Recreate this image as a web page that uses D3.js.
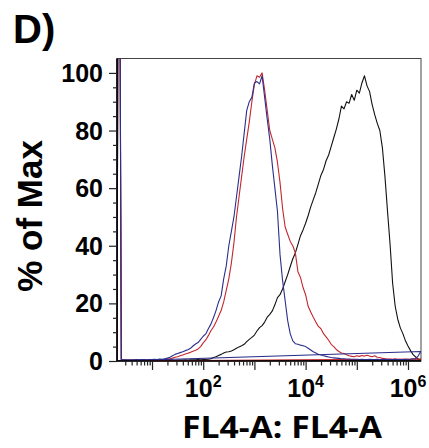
<!DOCTYPE html>
<html>
<head>
<meta charset="utf-8">
<script src="https://cdn.jsdelivr.net/npm/d3@7"></script>
<style>
html,body{margin:0;padding:0;background:#fff;}
svg{display:block;}
</style>
</head>
<body>
<svg id="chart" width="429" height="448"></svg>
<script>
// ---- data ----
// bin centres, log10(FL4-A)
const binLog = [0.35,0.40,0.45,0.50,0.55,0.60,0.65,0.70,0.75,0.80,0.85,0.90,0.95,1.00,1.05,1.10,1.15,1.20,1.25,1.30,
1.35,1.40,1.45,1.50,1.55,1.60,1.65,1.70,1.75,1.80,1.85,1.90,1.95,2.00,2.05,2.10,2.15,2.20,2.25,2.30,
2.35,2.40,2.45,2.50,2.55,2.60,2.65,2.70,2.75,2.80,2.85,2.90,2.95,3.00,3.05,3.10,3.15,3.20,3.25,3.30,
3.35,3.40,3.45,3.50,3.55,3.60,3.65,3.70,3.75,3.80,3.85,3.90,3.95,4.00,4.05,4.10,4.15,4.20,4.25,4.30,
4.35,4.40,4.45,4.50,4.55,4.60,4.65,4.70,4.75,4.80,4.85,4.90,4.95,5.00,5.05,5.10,5.15,5.20,5.25,5.30,
5.35,5.40,5.45,5.50,5.55,5.60,5.65,5.70,5.75,5.80,5.85,5.90,5.95,6.00,6.05,6.10,6.15,6.20,6.25];

const blackPct = [230,0.3,0.2,0.2,0.3,0.2,0.2,0.3,0.2,0.2,0.3,0.2,0.2,0.3,0.2,0.3,0.2,0.3,0.3,0.2,
0.3,0.3,0.2,0.3,0.3,0.3,0.4,0.3,0.4,0.4,0.4,0.5,0.4,0.5,0.5,0.6,0.8,1.2,1.5,1.9,
2.3,2.8,3.1,3.2,3.5,3.9,4.4,4.9,5.3,5.8,6.7,7.5,8.2,9.0,10.4,11.6,12.3,13.5,15.2,16.2,
17.4,19.5,22,23,25,27.5,30,32.8,35.5,37.5,40.5,43.5,45.5,47.8,50.5,53.5,56,58.5,61.5,64.5,
66.5,69.5,71.5,74.5,77.5,80.5,84,88.5,87.5,90,89.5,92.5,90.5,94,93,96.5,99,95.5,93.5,89,
85.5,82.5,80,74,64,52,40.5,27,19,14.5,11.5,9.5,7,5.2,3.6,2.2,1.4,0.7,0.3];

const redPct = [240,0.5,0.4,0.3,0.4,0.3,0.4,0.3,0.4,0.4,0.3,0.4,0.4,0.3,0.4,0.4,0.5,0.4,0.5,0.6,
0.8,1.0,1.3,1.5,1.8,2.1,2.4,2.7,3.0,3.4,3.7,4.2,5.0,6.3,7.3,8.8,10.5,11.8,13.5,15.5,
17.5,20.5,24.5,28.5,34,41,50,57,64,71,77,83,90,96,99,98.5,100,94,87,80,
77,74,69,62,53,46.5,44,41.5,40,37.5,31,29,25.5,23,19,17,15.2,13.5,12,11.2,
9.5,8.4,7.2,5.8,5.0,4.0,3.3,2.8,2.6,2.2,1.8,1.6,1.5,1.8,1.6,1.9,1.7,2.0,1.7,1.5,
1.8,1.3,1.2,0.9,0.8,0.7,0.7,0.6,0.7,0.6,0.6,0.5,0.6,0.6,0.5,0.6,0.6,0.6,0.7];

const bluePct = [250,0.6,0.4,0.4,0.3,0.4,0.4,0.5,0.4,0.5,0.5,0.4,0.5,0.5,0.6,0.5,0.7,0.6,0.8,1.0,
1.3,1.8,2.3,2.6,2.9,3.2,3.6,3.9,4.4,5.2,5.9,6.4,7.5,8.6,9.4,11.2,12.8,15.0,17.5,20.5,
22.6,28.5,33,40,45,50,57,64,71,79,87,90,91.5,96.5,97,96.2,99,91.5,84,77,
68,60,52,37,28,21,14,9.4,7.0,6.0,5.8,5.5,5.3,5.0,4.4,3.8,3.2,2.8,2.3,2.0,
1.8,1.6,1.4,1.2,1.1,1.0,0.9,0.8,0.8,0.7,0.7,0.6,0.6,0.6,0.5,0.6,0.5,0.5,0.6,0.5,
0.5,0.6,0.5,0.5,0.6,0.5,0.5,0.5,0.6,0.5,0.5,0.5,0.6,0.5,0.6,0.8,0.8,1.8,3.3];

const series = [
  {name:"black", values: blackPct, color:"#111111"},
  {name:"red",   values: redPct,   color:"#c4262e"},
  {name:"blue",  values: bluePct,  color:"#2b2e8c"}
];

const yTicks = [0,20,40,60,80,100];
const xLabelDecades = [2,4,6];
const xDomainLog = [0.316, 6.254];
const yDomain = [0, 105];

const svg = d3.select("#chart");
const m = {left:117, right:421, top:58.5, bottom:361};

const x = d3.scaleLog().domain(xDomainLog.map(d=>Math.pow(10,d))).range([m.left, m.right]);
const y = d3.scaleLinear().domain(yDomain).range([m.bottom, m.top]);

svg.append("defs").append("clipPath").attr("id","clip")
  .append("rect").attr("x",m.left).attr("y",m.top).attr("width",m.right-m.left).attr("height",m.bottom-m.top);

// frame
svg.append("rect").attr("x",m.left).attr("y",m.top).attr("width",m.right-m.left).attr("height",m.bottom-m.top)
  .attr("fill","none").attr("stroke","#444").attr("stroke-width",1);

// curves
const line = d3.line().x(d=>x(Math.pow(10,d[0]))).y(d=>y(d[1]));
const g = svg.append("g").attr("clip-path","url(#clip)");
series.forEach(s=>{
  const pts = [[xDomainLog[0],0]].concat(binLog.map((b,i)=>[b,s.values[i]]));
  g.append("path").attr("d", line(pts)+"Z")
    .attr("fill","none").attr("stroke",s.color).attr("stroke-width",1.1).attr("stroke-linejoin","round");
});

const boldSans = "'Liberation Sans', Arial, sans-serif";

// y axis
const yMinor = d3.range(0,101,5);
const yAxis = d3.axisLeft(y).tickValues(yMinor).tickSize(4).tickFormat("");
const ya = svg.append("g").attr("transform",`translate(${m.left},0)`).call(yAxis);
ya.select(".domain").attr("d",`M0,${m.top}V${m.bottom}`).attr("stroke","#000").attr("stroke-width",1.6);
ya.selectAll(".tick line").attr("stroke","#222").attr("stroke-width",1.2)
  .attr("x2", d=> yTicks.includes(d) ? -8 : -4);
svg.append("g").selectAll("text").data(yTicks).join("text")
  .attr("x",103).attr("y",d=>y(d)).attr("dy","0.36em")
  .attr("text-anchor","end")
  .style("font-family",boldSans).style("font-weight","bold").style("font-size","25px")
  .text(d=>d);

// x axis
const xMinor = [];
for (let dec=0; dec<=6; dec++) for (let k=1;k<=9;k++){
  const v = k*Math.pow(10,dec);
  if (Math.log10(v)>=xDomainLog[0] && Math.log10(v)<=xDomainLog[1]) xMinor.push(v);
}
const isDecade = v => Math.abs(Math.log10(v)-Math.round(Math.log10(v)))<1e-9;
const xAxis = d3.axisBottom(x).tickValues(xMinor).tickSize(4).tickFormat("");
const xa = svg.append("g").attr("transform",`translate(0,${m.bottom})`).call(xAxis);
xa.select(".domain").attr("d",`M${m.left},0H${m.right}`).attr("stroke","#000").attr("stroke-width",1.6);
xa.selectAll(".tick line").attr("stroke","#222").attr("stroke-width",1.2)
  .attr("y2", d=> isDecade(d) ? 9 : 4.5);

const xLab = svg.append("g").selectAll("text").data(xLabelDecades).join("text")
  .attr("x",d=>x(Math.pow(10,d))).attr("y",397)
  .attr("text-anchor","middle")
  .style("font-family",boldSans).style("font-weight","bold").style("font-size","25px");
xLab.append("tspan").text("10");
xLab.append("tspan").attr("dy",-10).style("font-size","16px").text(d=>d);

// axis titles
svg.append("text").attr("x",282).attr("y",438).attr("text-anchor","middle")
  .attr("textLength",200).attr("lengthAdjust","spacingAndGlyphs")
  .style("font-family","'Open Sans', sans-serif").style("font-weight","bold").style("font-size","31px")
  .text("FL4-A: FL4-A");
svg.append("text").attr("transform","translate(42,216) rotate(-90)").attr("text-anchor","middle")
  .style("font-family",boldSans).style("font-weight","bold").style("font-size","35px")
  .text("% of Max");
svg.append("text").attr("x",13).attr("y",43)
  .style("font-family",boldSans).style("font-weight","bold").style("font-size","40px")
  .text("D)");
</script>
</body>
</html>
